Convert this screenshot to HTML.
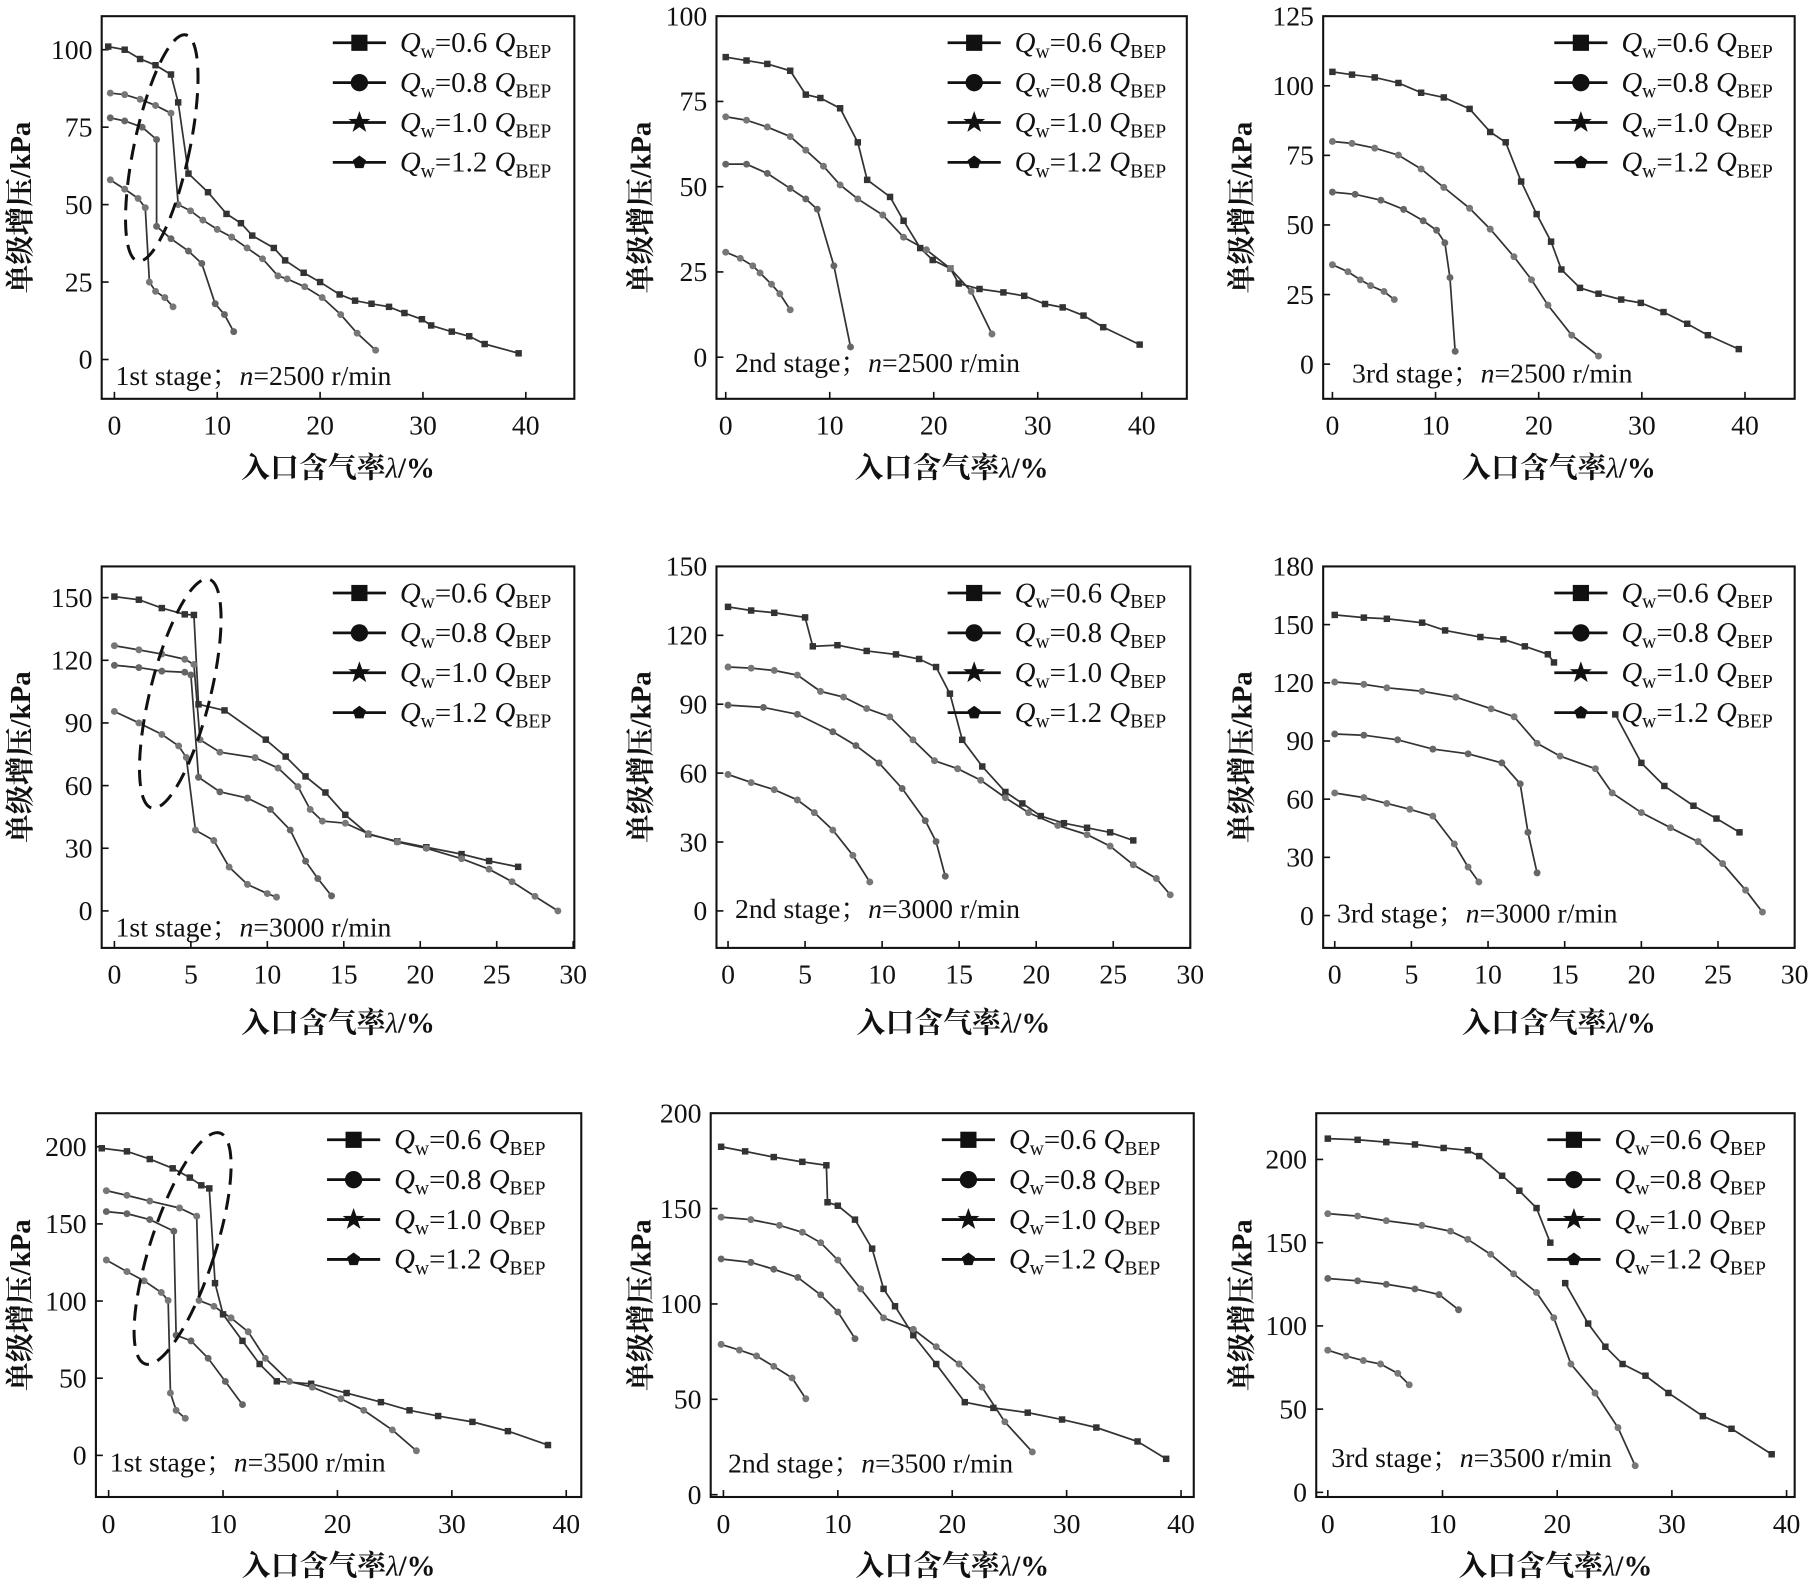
<!DOCTYPE html>
<html><head><meta charset="utf-8">
<style>
html,body{margin:0;padding:0;background:#fff;}
svg{display:block;}
text{font-family:"Liberation Serif","Noto Serif CJK SC",serif;fill:#111;}
</style></head>
<body>
<svg id="fig" width="1812" height="1586" viewBox="0 0 1568 1372" preserveAspectRatio="none" xmlns="http://www.w3.org/2000/svg"></svg>
<script>
// ---- data (x = gas fraction %, y = pressure rise kPa); null breaks a line ----
const series_labels = ["0.6","0.8","1.0","1.2"];
const p1_q06=[[-0.6,101],[1,100],[2.5,97],[4,95],[5.5,92],[6.2,83],[7.2,60],[9.1,54],[10.9,47],[12.3,44],[13.4,40],[15.5,36],[16.6,32],[18.4,28],[20,25],[21.9,21],[23.4,19],[25,18],[26.7,17],[28.2,15],[29.9,13],[30.8,11],[32.8,9],[34.5,7.5],[36,5],[39.3,2]];
const p1_q08=[[-0.4,86],[1,85.5],[2.5,84],[4,82],[5.5,79.5],[6.2,50],[7.4,48],[8.6,45],[10,42],[11.4,39.5],[12.9,36],[14.4,32.5],[15.9,27],[16.8,26],[18.5,23.5],[20.2,20],[22,14.5],[23.6,8.5],[25.4,3]];
const p1_q10=[[-0.4,78],[1,77],[2.7,75],[4.1,71],[4.1,43],[5.5,39],[7.2,35],[8.5,31],[9.8,18],[10.7,14.5],[11.6,9]];
const p1_q12=[[-0.4,58],[1,55],[2.3,52],[3,49],[3.4,25],[4,22],[4.9,20],[5.7,17]];
const p2_q06=[[0,88],[2,87],[4,86],[6.2,84],[7.7,77],[9.1,76],[11,73],[12.7,63],[13.6,52],[15.8,47],[17.1,40],[18.7,32],[19.9,28.5],[21.6,26],[22.4,21.6],[24.4,20],[26.7,19],[28.7,18],[30.7,15.6],[32.4,14.6],[34.4,12.2],[36.3,8.8],[39.8,3.7]];
const p2_q08=[[0,70.5],[2,69.5],[4,67.5],[6.2,64.7],[7.7,60.7],[9.4,56],[11,50.5],[12.7,46.4],[15.1,41.7],[17.1,35.2],[19.3,31.5],[21.6,26],[23.6,19.3],[25.6,6.8]];
const p2_q10=[[0,56.6],[2,56.6],[4,53.9],[6.2,49.5],[7.7,46.4],[8.8,43.4],[10.4,26.8],[12,3]];
const p2_q12=[[0,30.8],[1.4,29],[2.6,26.8],[3.3,24.7],[4.4,21.4],[5.2,18.6],[6.2,13.9]];
const p3_q06=[[0,105],[1.9,104],[4.1,103],[6.4,101],[8.6,97.5],[10.8,95.8],[13.3,91.7],[15.3,83.4],[16.8,79.7],[18.3,65.6],[19.8,53.9],[21.2,44],[22.2,34],[24,27.4],[25.8,25.3],[28,23.2],[29.9,22],[32.1,18.7],[34.4,14.5],[36.4,10.4],[39.4,5.4]];
const p3_q08=[[0,80],[1.9,79.3],[4.1,77.6],[6.4,75.1],[8.6,70.1],[10.8,63.5],[13.3,56],[15.3,48.5],[17.6,38.6],[19.3,30.3],[20.9,21.2],[23.2,10.4],[25.8,2.9]];
const p3_q10=[[0,61.8],[2.2,61],[4.7,58.9],[6.9,55.6],[8.8,51.5],[10.1,48.1],[10.9,43.6],[11.4,31.1],[11.9,4.6]];
const p3_q12=[[0,35.7],[1.5,33.2],[2.7,30.3],[3.7,28.2],[5,26.1],[6,23.2]];
const p4_q06=[[0,150.5],[1.6,149],[3.1,145],[4.6,142],[5.2,141.7],[5.5,98.9],[7.2,96],[9.9,82],[11.2,73.9],[12.5,64.4],[13.8,56.7],[15.1,46],[16.6,36.7],[18.5,33.3],[20.4,30.5],[22.7,27.2],[24.5,23.9],[26.4,21.1]];
const p4_q08=[[0,127],[1.6,125],[3.1,123],[4.6,120.5],[5.2,118],[5.6,82],[6.9,76],[9.2,73.4],[10.7,68.4],[12,59.5],[12.8,48.6],[13.6,43],[15.1,42],[16.6,37],[18.5,33],[20.4,30],[22.7,25],[24.5,20],[26,14],[27.5,7],[29,0]];
const p4_q10=[[0,117.6],[1.6,116.5],[3.1,114.8],[4.6,114.3],[5,113],[5.5,64],[6.9,57],[8.7,54],[10.2,48.6],[11.5,38.7],[12.5,23.8],[13.3,15.5],[14.2,7.2]];
const p4_q12=[[0,95.5],[1.6,90],[3.1,84.5],[4.2,79],[4.7,73.5],[5.3,38.7],[6.5,33.7],[7.5,21],[8.7,12.7],[10,8.3],[10.6,6.6]];
const p5_q06=[[0,132.4],[1.5,130.8],[3,129.8],[5,127.8],[5.5,115.2],[7.1,115.7],[9,113.2],[10.9,111.7],[12.4,109.7],[13.5,106.2],[14.4,94.6],[15.2,74.5],[16.5,62.9],[18,51.8],[19.1,46.8],[20.3,41.3],[21.8,38.2],[23.3,36.2],[24.8,34.2],[26.3,30.7]];
const p5_q08=[[0,106.2],[1.5,105.7],[3,104.7],[4.5,102.7],[6,95.6],[7.5,93.1],[9,88.1],[10.5,84.5],[12,74.5],[13.4,65.4],[14.9,61.9],[16.4,56.9],[18,49.3],[19.5,42.8],[21.4,37.2],[23.3,33.2],[24.8,28.2],[26.3,20.1],[27.8,14.1],[28.7,7]];
const p5_q10=[[0,89.6],[2.3,88.6],[4.5,85.6],[6.8,78],[8.3,72],[9.8,64.4],[11.3,53.3],[12.8,39.3],[13.5,30.2],[14.1,15.1]];
const p5_q12=[[0,59.4],[1.5,55.9],[3,52.8],[4.5,48.3],[5.6,42.8],[6.8,35.2],[8.1,24.2],[9.2,12.6]];
const p6_q06=[[0,155],[1.9,153.6],[3.4,153],[5.7,151],[7.2,147],[9.5,143.6],[11,142.4],[12.4,138.8],[13.9,134.7],[14.3,130.5],null,[18.3,103.7],[20,78.7],[21.5,66.8],[23.4,56.6],[24.9,50],[26.4,42.9]];
const p6_q08=[[0,120.4],[1.9,119.2],[3.4,117.4],[5.7,115.6],[7.9,112.6],[10.2,106.6],[11.7,102.5],[13.2,88.8],[14.7,82.2],[17,75.7],[18.1,63.2],[20,53.1],[21.9,45.3],[23.7,38.1],[25.3,26.8],[26.8,13.1],[27.9,1.8]];
const p6_q10=[[0,93.6],[1.9,93],[4.1,90.6],[6.4,85.8],[8.7,83.4],[10.9,78.7],[12.1,67.9],[12.6,42.9],[13.2,22]];
const p6_q12=[[0,63.2],[1.9,60.8],[3.4,57.8],[4.9,54.8],[6.4,51.3],[7.8,36.9],[8.7,25],[9.4,17.3]];
const p7_q06=[[-0.6,199],[1.6,197],[3.6,192],[5.6,186],[7.1,180],[8.1,175],[8.8,173],[9.3,111.6],[10,91.4],[11.7,74.2],[13.2,59.2],[14.7,48],[17.7,46.4],[20.8,40.4],[23.8,34.5],[26.3,29.2],[28.8,25.5],[31.8,21.7],[34.9,15.7],[38.4,6.7]];
const p7_q08=[[-0.2,171.5],[1.6,168.5],[3.6,164.8],[6.2,160.3],[7.7,155],[7.9,100.4],[9.2,96.6],[10.7,89.1],[12.2,80.1],[13.7,62.9],[15.8,47.9],[17.8,44.2],[20.3,36.7],[22.3,29.2],[24.8,16.5],[26.9,3]];
const p7_q10=[[-0.2,158],[1.6,156.6],[3.6,152.8],[5.7,145.3],[5.9,77.9],[7.2,74.2],[8.7,62.9],[10.2,47.9],[11.7,32.9]];
const p7_q12=[[-0.2,126.6],[1.6,119.1],[3.1,113.1],[4.6,105.6],[5.2,100.4],[5.4,40.4],[5.9,29.2],[6.7,24]];
const p8_q06=[[-0.2,182.4],[1.9,180],[4.4,177],[6.9,174.5],[9,172.7],[9.1,153.3],[10,151.5],[11.5,144.2],[13,129],[14,107.9],[15,98.8],[16.6,83.6],[18.6,68.5],[21.1,48.5],[23.6,45.5],[26.6,43],[29.6,39.4],[32.6,35.2],[36.2,27.9],[38.7,18.8]];
const p8_q08=[[-0.2,145.5],[2.4,144.2],[4.9,141.2],[6.9,137.6],[8.5,132.1],[10,123],[12,107.9],[14,92.7],[16.6,86.7],[18.6,77.6],[20.6,68.5],[22.6,56.4],[24.6,38.2],[27,22.4]];
const p8_q10=[[-0.2,123.6],[2.4,121.8],[4.4,118.2],[6.5,113.9],[8.5,104.8],[10,95.8],[11.5,81.8]];
const p8_q12=[[-0.2,78.8],[1.4,75.8],[2.9,72.7],[4.4,67.3],[6,61.2],[7.2,50.3]];
const p9_q06=[[0,212.5],[2.6,211.8],[5.1,210.4],[7.6,209],[10.1,206.9],[12.2,205.5],[13.2,202],[15.2,190.2],[16.7,181.2],[18.2,170.8],[19.4,150],null,[20.7,125.7],[22.7,101.4],[24.2,87.5],[25.7,77.1],[27.7,70.1],[29.7,59.7],[32.7,45.8],[35.2,38.2],[38.7,22.9]];
const p9_q08=[[0,167.4],[2.6,166],[5.1,163.2],[8.2,160.4],[10.7,156.9],[12.2,152],[14.2,143],[16.2,131.3],[18.2,120.1],[19.7,104.9],[21.2,77.1],[23.3,59.7],[25.3,38.9],[26.8,16]];
const p9_q10=[[0,128.5],[2.6,127.1],[5.1,125],[7.6,122.2],[9.7,118.8],[11.4,109.7]];
const p9_q12=[[0,85.4],[1.6,81.9],[3.1,79.2],[4.6,77.1],[6.1,71.5],[7.1,64.6]];
const xt40=[0,10,20,30,40], xt30=[0,5,10,15,20,25,30];
const yt_p1=[0,25,50,75,100], yt_p2=[0,25,50,75,100], yt_p3=[0,25,50,75,100,125];
const yt_p4=[0,30,60,90,120,150], yt_p5=[0,30,60,90,120,150], yt_p6=[0,30,60,90,120,150,180];
const yt_p7=[0,50,100,150,200], yt_p8=[0,50,100,150,200], yt_p9=[0,50,100,150,200];

// ---- layout (display units) ----
const panels=[
 {n:"p1",d:[p1_q06,p1_q08,p1_q10,p1_q12],xt:xt40,yt:yt_p1,f:[88,14,497,345],x0:99,x1:455,xv:40,y0:311,y1:43,yv:100,lab:"1st stage",rpm:"2500",lx:100,ly:333,yl:18,xl:413},
 {n:"p2",d:[p2_q06,p2_q08,p2_q10,p2_q12],xt:xt40,yt:yt_p2,f:[620,14,1027,345],x0:628,x1:988,xv:40,y0:309,y1:14,yv:100,lab:"2nd stage",rpm:"2500",lx:636,ly:322,yl:555,xl:413},
 {n:"p3",d:[p3_q06,p3_q08,p3_q10,p3_q12],xt:xt40,yt:yt_p3,f:[1145,14,1553,345],x0:1153,x1:1510,xv:40,y0:315,y1:14,yv:125,lab:"3rd stage",rpm:"2500",lx:1170,ly:331,yl:1075,xl:413},
 {n:"p4",d:[p4_q06,p4_q08,p4_q10,p4_q12],xt:xt30,yt:yt_p4,f:[88,490,497,820],x0:99,x1:496,xv:30,y0:788,y1:517,yv:150,lab:"1st stage",rpm:"3000",lx:100,ly:810,yl:18,xl:893},
 {n:"p5",d:[p5_q06,p5_q08,p5_q10,p5_q12],xt:xt30,yt:yt_p5,f:[620,490,1030,820],x0:630,x1:1030,xv:30,y0:788,y1:490,yv:150,lab:"2nd stage",rpm:"3000",lx:636,ly:794,yl:555,xl:893},
 {n:"p6",d:[p6_q06,p6_q08,p6_q10,p6_q12],xt:xt30,yt:yt_p6,f:[1145,490,1553,820],x0:1155,x1:1553,xv:30,y0:792,y1:490,yv:180,lab:"3rd stage",rpm:"3000",lx:1157,ly:798,yl:1075,xl:893},
 {n:"p7",d:[p7_q06,p7_q08,p7_q10,p7_q12],xt:xt40,yt:yt_p7,f:[83,963,503,1295],x0:94,x1:490,xv:40,y0:1259,y1:992,yv:200,lab:"1st stage",rpm:"3500",lx:95,ly:1273,yl:18,xl:1363},
 {n:"p8",d:[p8_q06,p8_q08,p8_q10,p8_q12],xt:xt40,yt:yt_p8,f:[615,963,1033,1295],x0:626,x1:1022,xv:40,y0:1293,y1:963,yv:200,lab:"2nd stage",rpm:"3500",lx:630,ly:1274,yl:555,xl:1363},
 {n:"p9",d:[p9_q06,p9_q08,p9_q10,p9_q12],xt:xt40,yt:yt_p9,f:[1139,963,1553,1295],x0:1149,x1:1546,xv:40,y0:1291,y1:1003,yv:200,lab:"3rd stage",rpm:"3500",lx:1152,ly:1269,yl:1075,xl:1363}
];
const ellipses={p1:[140,128,24,100,12],p4:[156,600,26,102,14],p7:[158,1080,28,105,18]};
const NS="http://www.w3.org/2000/svg";
const svg=document.getElementById('fig');
function mk(tag,attrs,parent){const e=document.createElementNS(NS,tag);for(const k in attrs)e.setAttribute(k,attrs[k]);(parent||svg).appendChild(e);return e;}

panels.forEach(p=>{
  const g=mk('g',{});
  
  
  const sx=v=>p.x0+(v/p.xv)*(p.x1-p.x0);
  const sy=v=>p.y0+(v/p.yv)*(p.y1-p.y0);
  const [L,T,R,B]=p.f;
  const fr=mk('rect',{x:L,y:T,width:R-L,height:B-T,fill:'none',stroke:'#111','stroke-width':1.8},g);
  
  
  p.xt.forEach(v=>{
    mk('line',{x1:sx(v),x2:sx(v),y1:B,y2:B-6,stroke:'#111','stroke-width':1.4},g);
    const t=mk('text',{x:sx(v),y:B+31,'text-anchor':'middle','font-size':24},g);
    t.textContent=v;
    
    
  });
  p.yt.forEach(v=>{
    mk('line',{x1:L,x2:L+6,y1:sy(v),y2:sy(v),stroke:'#111','stroke-width':1.4},g);
    const t=mk('text',{x:L-8,y:sy(v)+8,'text-anchor':'end','font-size':24},g);
    t.textContent=v;
    
    
  });
  const xl=mk('text',{x:(L+R)/2,y:p.xl,'text-anchor':'middle','font-size':25,'font-weight':'bold'},g);
  xl.innerHTML='入口含气率<tspan font-style="italic" font-weight="normal">λ</tspan>/%';
  
  
  const yc=(T+B)/2;
  const yl=mk('text',{x:p.yl+8,y:yc,'text-anchor':'middle','font-size':25,'font-weight':'bold',transform:`rotate(-90 ${p.yl+8} ${yc})`},g);
  yl.textContent='单级增压/kPa';
  
  
  p.d.forEach((arr,si)=>{
    const sg=mk('g',{},g);
    
    
    let d='',pen=false;
    arr.forEach(pt=>{ if(!pt){pen=false;return;} d+=(pen?'L':'M')+sx(pt[0]).toFixed(1)+' '+sy(pt[1]).toFixed(1); pen=true;});
    mk('path',{d:d,fill:'none',stroke:'#333','stroke-width':1.5},sg);
    arr.forEach(pt=>{ if(!pt)return;
      let m;
      if(si===0) m=mk('rect',{x:sx(pt[0])-2.8,y:sy(pt[1])-2.8,width:5.6,height:5.6,fill:'#333'},sg);
      else m=mk('circle',{cx:sx(pt[0]),cy:sy(pt[1]),r:3,fill:si===2?'#666':'#777'},sg);
      
      
    });
  });
  const lx=L+200;
  series_labels.forEach((s,i)=>{
    const ly=T+23+i*34.5;
    const lg=mk('g',{},g);
    
    
    mk('line',{x1:lx,x2:lx+46,y1:ly,y2:ly,stroke:'#111','stroke-width':2.4},lg);
    const c=lx+23;
    if(i===0) mk('rect',{x:c-7,y:ly-7,width:14,height:14,fill:'#111'},lg);
    else if(i===1) mk('circle',{cx:c,cy:ly,r:7.5,fill:'#111'},lg);
    else if(i===2){let pts=[];for(let k=0;k<10;k++){const r=k%2?4:10;const a=-Math.PI/2+k*Math.PI/5;pts.push((c+r*Math.cos(a)).toFixed(1)+','+(ly+r*Math.sin(a)).toFixed(1));}mk('polygon',{points:pts.join(' '),fill:'#111'},lg);}
    else {let pts=[];for(let k=0;k<5;k++){const a=-Math.PI/2+k*2*Math.PI/5;pts.push((c+6*Math.cos(a)).toFixed(1)+','+(ly+6*Math.sin(a)).toFixed(1));}mk('polygon',{points:pts.join(' '),fill:'#111'},lg);}
    const t=mk('text',{x:lx+58,y:ly+8,'font-size':25},lg);
    t.innerHTML='<tspan font-style="italic">Q</tspan><tspan font-size="17" dy="5">w</tspan><tspan dy="-5">=</tspan>'+s+' <tspan font-style="italic">Q</tspan><tspan font-size="17" dy="5">BEP</tspan>';
  });
  const st=mk('text',{x:p.lx,y:p.ly,'font-size':24},g);
  st.innerHTML=p.lab+'；<tspan font-style="italic">n</tspan>='+p.rpm+' r/min';
  
  
  if(ellipses[p.n]){const e=ellipses[p.n];
    const el=mk('ellipse',{cx:e[0],cy:e[1],rx:e[2],ry:e[3],transform:`rotate(${e[4]} ${e[0]} ${e[1]})`,fill:'none',stroke:'#111','stroke-width':2.6,'stroke-dasharray':'14 8'},g);
    
    
  }
});
</script>
</body></html>
